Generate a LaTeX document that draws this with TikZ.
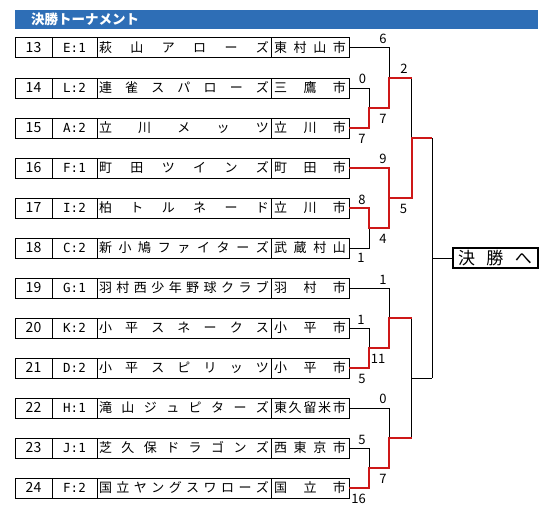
\documentclass[tikz,border=0pt]{standalone}
\usepackage{fontspec}
\setmainfont{Noto Sans CJK JP}
\newfontfamily\codefont{DejaVu Sans Mono}
\usepackage{xcolor}
\usepackage{tikz}
\usetikzlibrary{positioning}
\definecolor{barblue}{RGB}{46,110,182}
\definecolor{winred}{RGB}{206,24,24}
\def\spreadnext#1{\ifx#1\relax\else\hfill#1\expandafter\spreadnext\fi}
\def\spreadfirst#1{#1\spreadnext}
\newcommand{\spread}[2]{\makebox[#1]{\spreadfirst#2\relax}}
\newcommand{\teamrow}[5]{%
  \node[numcell, #2] (num#1) {#1};
  \node[codecell, right=0pt of num#1] (code#1) {#3};
  \node[namecell, right=0pt of code#1] (team#1) {\spread{170pt}{#4}};
  \node[citycell, right=0pt of team#1] (city#1) {\spread{72pt}{#5}};}

\begin{document}
\begin{tikzpicture}[x=1pt, y=-1pt,
  node distance=20pt,
  cell/.style={draw, line width=1pt, inner sep=0pt, outer sep=0pt, minimum height=20pt, text height=11pt, text depth=2pt},
  numcell/.style={cell, minimum width=37pt, font=\fontsize{14}{14}\selectfont},
  codecell/.style={cell, minimum width=45pt, font=\codefont\fontsize{12.5}{12.5}\selectfont},
  namecell/.style={cell, minimum width=174pt, font=\fontsize{13}{13}\selectfont},
  citycell/.style={cell, minimum width=78pt, font=\fontsize{13}{13}\selectfont},
  header/.style={anchor=west, fill=barblue, text=white, inner xsep=16pt, inner ysep=0pt, text width=491pt, align=left, minimum height=19pt, font=\bfseries\fontsize{13.5}{13.5}\selectfont},
  finalbox/.style={draw, line width=2pt, inner sep=0pt, minimum width=85pt, minimum height=20pt, font=\fontsize{17}{17}\selectfont},
  score/.style={inner sep=0pt, font=\fontsize{13}{13}\selectfont},
  bracket/.style={line width=1pt},
  win/.style={winred, line width=2pt}]
  \useasboundingbox (0,0) rectangle (554,519);
  \node[header] (title) at (15,19.5) {決勝トーナメント};

  \teamrow{13}{anchor=west, at={(15,48)}}{E:1}{萩山アローズ}{東村山市}
  \teamrow{14}{below=of num13}{L:2}{連雀スパローズ}{三鷹市}
  \teamrow{15}{below=of num14}{A:2}{立川メッツ}{立川市}
  \teamrow{16}{below=of num15}{F:1}{町田ツインズ}{町田市}
  \teamrow{17}{below=of num16}{I:2}{柏トルネード}{立川市}
  \teamrow{18}{below=of num17}{C:2}{新小鳩ファイターズ}{武蔵村山}
  \teamrow{19}{below=of num18}{G:1}{羽村西少年野球クラブ}{羽村市}
  \teamrow{20}{below=of num19}{K:2}{小平スネークス}{小平市}
  \teamrow{21}{below=of num20}{D:2}{小平スピリッツ}{小平市}
  \teamrow{22}{below=of num21}{H:1}{滝山ジュピターズ}{東久留米市}
  \teamrow{23}{below=of num22}{J:1}{芝久保ドラゴンズ}{西東京市}
  \teamrow{24}{below=of num23}{F:2}{国立ヤングスワローズ}{国立市}

  \coordinate (q1) at (369,108);
  \coordinate (q2) at (389,78);
  \coordinate (q3) at (369,228);
  \coordinate (q4) at (389,198);
  \coordinate (q5) at (369,348);
  \coordinate (q6) at (389,318);
  \coordinate (q7) at (369,468);
  \coordinate (q8) at (389,438);
  \coordinate (s1) at (411.5,138);
  \coordinate (s2) at (411.5,378);
  \coordinate (f) at (432,258);
  \node[finalbox] (final) at (495,258) {\spread{74pt}{決勝へ}};

  \draw[bracket] (city13.east) -| (q2);
  \draw[bracket] (city14.east) -| (q1);
  \draw[bracket] (city18.east) -| (q3);
  \draw[bracket] (city19.east) -| (q6);
  \draw[bracket] (city20.east) -| (q5);
  \draw[bracket] (city22.east) -| (q8);
  \draw[bracket] (city23.east) -| (q7);
  \draw[bracket] (q2 -| s1) -- (s1);
  \draw[bracket] (q6 -| s2) -- (q8 -| s2);
  \draw[bracket] (s2) -- (s2 -| f);
  \draw[bracket] (s1 -| f) -- (s2 -| f);
  \draw[bracket] (f) -- (final.west);

  \draw[win] (city15.east) -| (q1) -| (q2) -- (q2 -| s1);
  \draw[win] (city17.east) -| (q3) -| (q4);
  \draw[win] (city16.east) -| (q4) -- (q4 -| s1) -- (s1) -- (s1 -| f);
  \draw[win] (city21.east) -| (q5) -| (q6) -- (q6 -| s2);
  \draw[win] (city24.east) -| (q7) -| (q8) -- (q8 -| s2);

  \node[score] (sc13) at (383,39) {6};
  \node[score] (sc14) at (362.5,79) {0};
  \node[score] (sc15) at (362,138.5) {7};
  \node[score] (scq1) at (383,119) {7};
  \node[score] (scq2) at (404,69) {2};
  \node[score] (sc16) at (383,158.5) {9};
  \node[score] (scq4) at (403.5,209) {5};
  \node[score] (sc17) at (362,200) {8};
  \node[score] (scq3) at (383,239) {4};
  \node[score] (sc18) at (361,258) {1};
  \node[score] (sc19) at (383,280) {1};
  \node[score] (sc20) at (361,320) {1};
  \node[score] (scq5) at (378,359) {11};
  \node[score] (sc21) at (362,379) {5};
  \node[score] (sc22) at (383,398.5) {0};
  \node[score] (sc23) at (362,440) {5};
  \node[score] (scq7) at (383,479) {7};
  \node[score] (sc24) at (358.5,498.5) {16};
\end{tikzpicture}
\end{document}
